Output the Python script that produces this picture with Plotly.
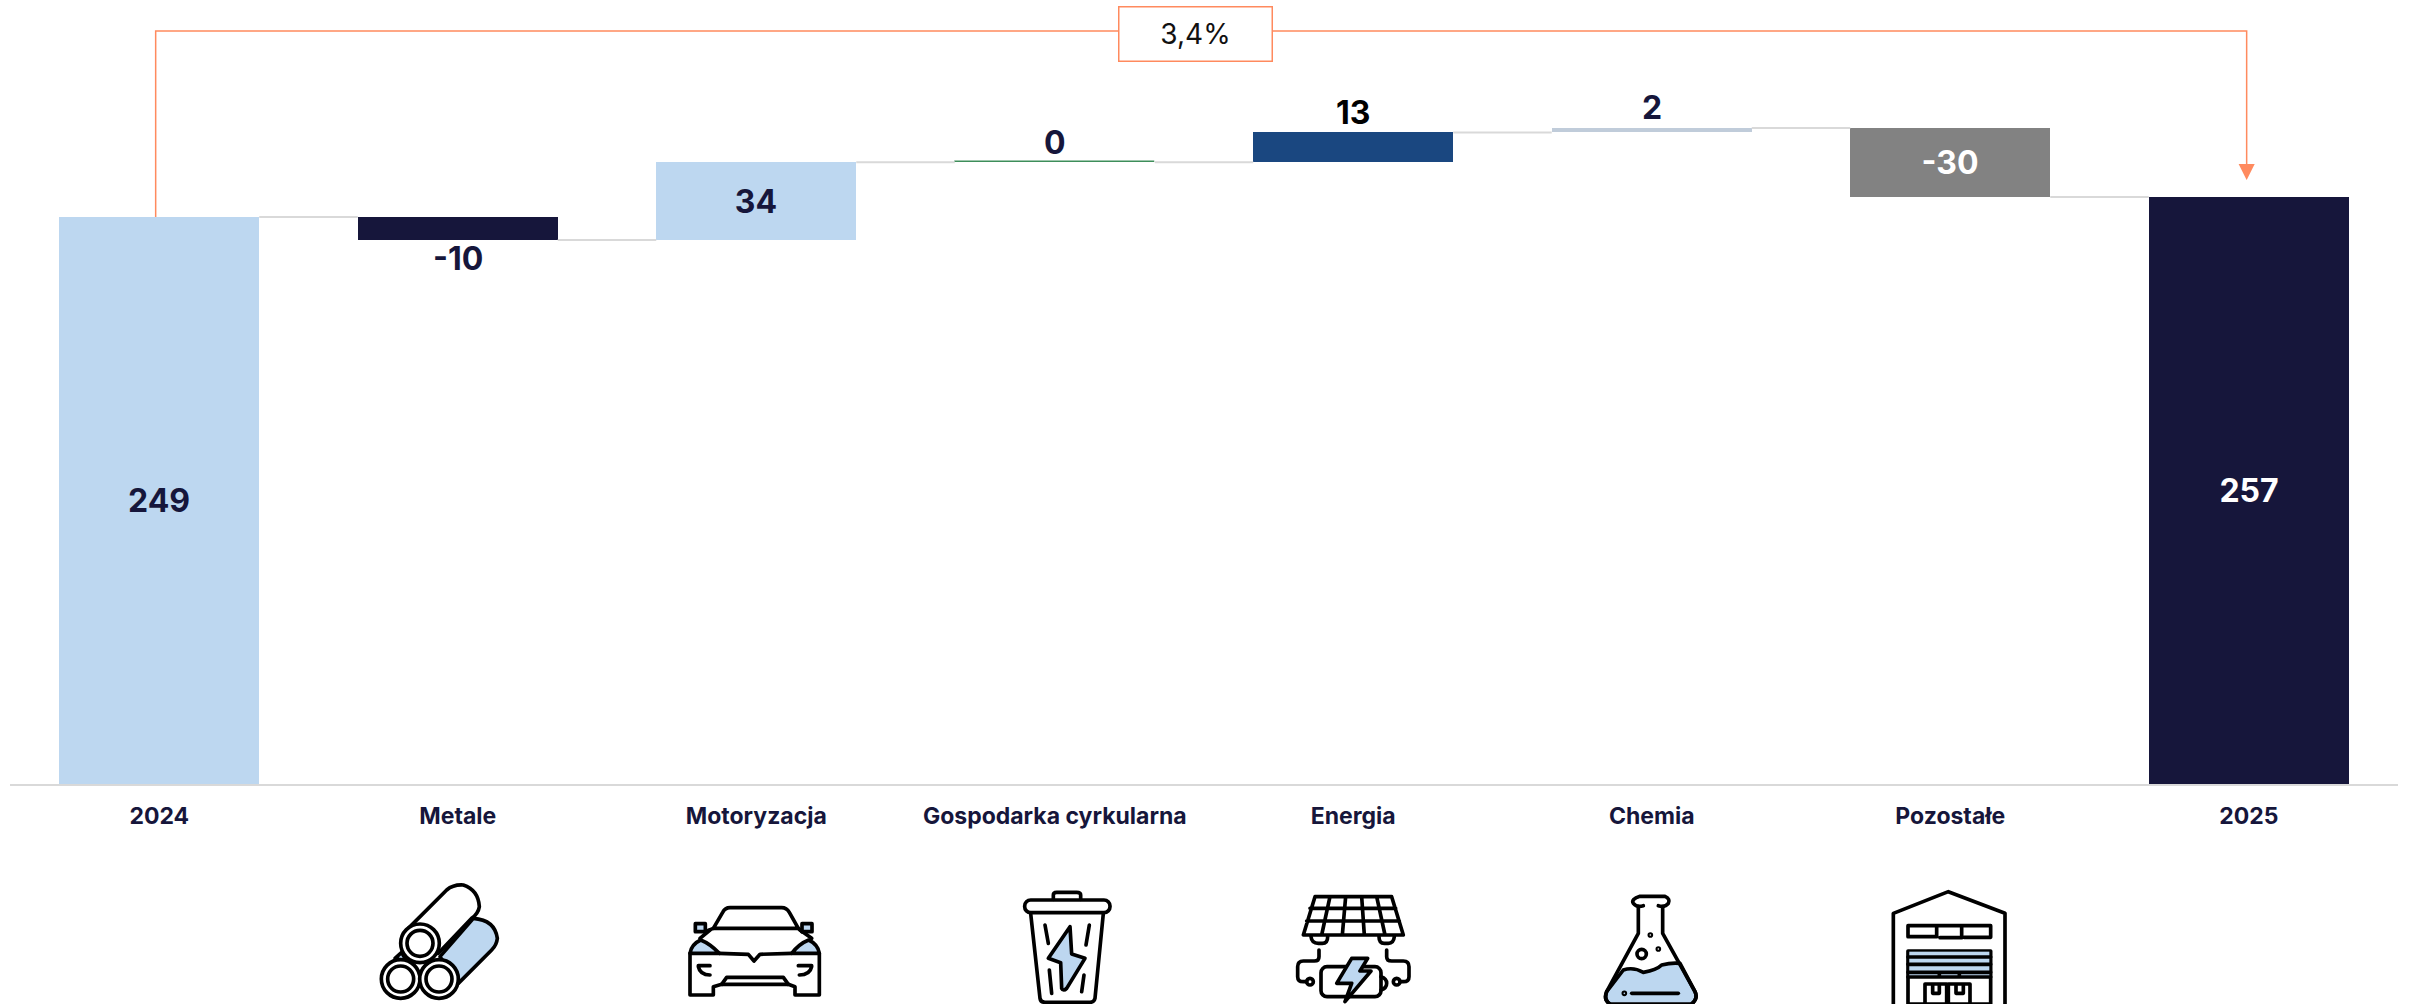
import base64
import plotly.graph_objects as go

categories = ["2024", "Metale", "Motoryzacja", "Gospodarka cyrkularna", "Energia", "Chemia", "Pozostałe", "2025"]
values = [248.3, -10.1, 34.1, 0, 13.0, 2.0, -30.3, 257]
labels = ["249", "-10", "34", "0", "13", "2", "-30", "257"]
is_total = [True, False, False, False, False, False, False, True]
colors = ["#BDD7F0", "#16163B", "#BDD7F0", "#3E8E5A", "#1A4780", "#C0CCDA", "#828282", "#16163B"]
label_colors = ["#16163B", "#16163B", "#16163B", "#16163B", "#000000", "#16163B", "#FFFFFF", "#FFFFFF"]
label_inside = [True, False, True, False, False, False, True, True]
growth_label = "3,4%"

FONT = "Inter"
NAVY = "#16163B"
ORANGE = "#FF8A5E"
GREY = "#D9D9D9"
BLUE = "#BDD7F0"
BAR_WIDTH = 0.67

# running levels
bases, tops = [], []
level = 0
for v, total in zip(values, is_total):
    if total:
        bases.append(0)
        level = v
    else:
        bases.append(level)
        level += v
    tops.append(level)

conn_x, conn_y = [], []
for i in range(len(categories) - 1):
    conn_x += [i + BAR_WIDTH / 2, i + 1 - BAR_WIDTH / 2, None]
    conn_y += [tops[i], tops[i], None]


def svg(w, h, body):
    s = (f'<svg xmlns="http://www.w3.org/2000/svg" width="{w}" height="{h}" viewBox="0 0 {w} {h}">'
         f'<g fill="none" stroke="#000" stroke-width="11" stroke-linecap="round" stroke-linejoin="round">{body}</g></svg>')
    return "data:image/svg+xml;base64," + base64.b64encode(s.encode()).decode()


B = f'fill="{BLUE}"'
icon_metal = svg(420, 387, f'''
<path d="M115 160 L230 45 Q250 28 280 30 Q325 45 328 95 Q325 115 305 130 L205 235" fill="#fff"/>
<path d="M210 245 L310 130 Q375 135 382 190 Q380 210 365 225 L265 325 Z" {B}/>
<path d="M75 250 L95 232 L110 260 Z" {B}/>
<circle cx="150" cy="205" r="58" fill="#fff"/><circle cx="150" cy="205" r="39" fill="#fff"/>
<circle cx="92" cy="312" r="58" fill="#fff"/><circle cx="92" cy="312" r="39" fill="#fff"/>
<circle cx="207" cy="312" r="58" fill="#fff"/><circle cx="207" cy="312" r="39" fill="#fff"/>''')
icon_car = svg(450, 327, f'''
<path d="M100 100 L128 52 Q135 38 150 38 L305 38 Q320 38 328 52 L355 100 Z"/>
<rect x="46" y="86" width="30" height="24" {B}/><rect x="366" y="86" width="30" height="24" {B}/>
<path d="M75 110 L100 100 M366 110 L355 100"/>
<path d="M60 130 L90 105 M395 130 L360 105"/>
<path d="M30 175 Q34 148 62 135 Q90 146 118 175 Z" {B}/>
<path d="M418 175 Q414 148 386 135 Q358 146 335 175 Z" {B}/>
<path d="M30 175 L30 300 L100 300 L100 275 L125 268 L325 268 L345 275 L345 300 L418 300 L418 175"/>
<path d="M118 175 L205 178 L222 198 L240 178 L335 175"/>
<path d="M125 268 L140 247 L310 247 L325 268"/>
<path d="M55 212 L90 212 M55 215 Q60 240 90 240 M395 212 L355 212 M395 215 Q390 240 358 240"/>''')
icon_trash = svg(360, 372, f'''
<path d="M130 58 L130 45 Q130 37 140 37 L200 37 Q212 37 212 45 L212 58"/>
<rect x="44" y="60" width="256" height="38" rx="18"/>
<path d="M62 100 L90 355 Q92 367 105 367 L240 367 Q252 367 255 355 L280 100"/>
<path d="M180 140 L115 235 L152 248 L155 325 Q160 335 170 325 L225 235 L185 222 Z" {B}/>
<path d="M105 135 L115 190 M238 135 L228 195 M118 270 L125 340 M222 285 L215 335"/>''')
icon_energy = svg(405, 357, f'''
<path d="M90 35 L320 35 L355 150 L55 150 Z M75 70 L332 70 M65 108 L343 108 M135 35 L110 150 M182 35 L172 150 M230 35 L238 150 M275 35 L300 150"/>
<path d="M78 155 Q80 175 100 175 L112 175 Q128 175 128 155 M282 155 Q282 175 298 175 L310 175 Q326 175 328 155"/>
<path d="M102 195 L102 215 Q102 228 88 228 L55 228 Q38 228 38 245 L38 275 Q38 290 55 290 L65 290"/><circle cx="75" cy="290" r="10"/>
<path d="M305 195 L305 215 Q305 228 320 228 L355 228 Q372 228 372 245 L372 275 Q372 290 355 290 L345 290"/><circle cx="335" cy="290" r="10"/>
<rect x="108" y="245" width="180" height="90" rx="18"/>
<path d="M288 275 Q305 280 305 295 Q305 310 288 315"/>
<path d="M200 220 L248 220 L225 258 L258 258 L180 350 L200 295 L155 295 Z" {B}/>''')
icon_flask = svg(360, 357, f'''
<path d="M100 255 Q130 245 160 262 Q200 255 215 240 Q245 232 270 235 L315 320 Q325 340 305 357 L60 357 Q40 345 50 320 Z" {B}/>
<path d="M145 65 L145 145 L50 320 Q40 345 60 357 M218 65 L218 145 L315 320 Q325 340 305 357"/>
<path d="M150 34 L225 34 Q242 42 235 55 Q225 68 205 62 M150 34 Q122 42 130 55 Q140 68 160 62"/>
<path d="M125 325 L265 325" stroke-width="11"/><circle cx="103" cy="325" r="3"/>
<circle cx="155" cy="207" r="14"/><circle cx="181" cy="150" r="3"/><circle cx="205" cy="192" r="3"/>''')
icon_warehouse = svg(405, 357, f'''
<path d="M40 357 L40 85 L205 20 L375 85 L375 357"/>
<path d="M180 158 L245 158 L245 122 L332 122 L332 157 L252 157 M170 122 L170 155 L84 155 L84 122 L245 122"/>
<rect x="84" y="198" width="248" height="159" fill="#fff"/>
<rect x="88" y="200" width="240" height="75" {B} stroke="none"/>
<path d="M84 216 L332 216 M84 238 L332 238 M84 262 L332 262 M84 276 L332 276 M178 262 L178 276 M238 262 L238 276"/>
<path d="M135 357 L135 297 L200 297 L200 357 M205 357 L205 297 L270 297 L270 357 M158 297 L158 325 L178 325 L178 297 M228 297 L228 325 L250 325 L250 297"/>''')

# icon, crop left, crop top, crop width, crop height (page pixels)
icons = [
    (icon_metal, 370, 875, 140, 129),
    (icon_car, 680, 895, 150, 109),
    (icon_trash, 1010, 880, 120, 124),
    (icon_energy, 1285, 885, 135, 119),
    (icon_flask, 1590, 885, 120, 119),
    (icon_warehouse, 1880, 885, 135, 119),
]

W, H = 2412, 1004
L, R, T, Bm = 10, 14, 0, 220
PW, PH = W - L - R, H - T - Bm

images = [dict(source=s, xref="paper", yref="paper",
               x=(x - L) / PW, y=1 - (y - T) / PH, sizex=w / PW, sizey=h / PH,
               xanchor="left", yanchor="top", sizing="stretch", layer="above")
          for s, x, y, w, h in icons]

ARROW_X_START, ARROW_X_END, ARROW_TOP = -0.012, 6.993, 329.7
HEAD_TOP, HEAD_TIP = 271.5, 264.5

annotations = [dict(x=3.47, y=328.2, xref="x", yref="y", text=growth_label, showarrow=False,
                    width=150, height=51, bgcolor="white", bordercolor=ORANGE, borderwidth=1.5,
                    font=dict(family=FONT, size=28, color="#111111"), align="center", valign="middle")]
for i, (lab, col, inside) in enumerate(zip(labels, label_colors, label_inside)):
    if inside:
        continue
    negative = values[i] < 0
    annotations.append(dict(
        x=i, y=bases[i] + min(values[i], 0) if negative else bases[i] + values[i],
        xref="x", yref="y", text=lab, showarrow=False, yanchor="middle",
        yshift=-18 if negative else 20,
        font=dict(family=FONT, size=32, weight=700, color=col)))

fig = go.Figure()
fig.add_trace(go.Scatter(x=conn_x, y=conn_y, mode="lines", line=dict(color=GREY, width=2),
                         hoverinfo="skip", showlegend=False))
fig.add_trace(go.Bar(
    x=list(range(len(categories))), y=values, base=bases, width=BAR_WIDTH,
    marker=dict(color=colors,
                line=dict(color=colors, width=[1.5 if v == 0 else 0 for v in values])),
    text=[lab if inside else "" for lab, inside in zip(labels, label_inside)],
    textposition="inside", textangle=0,
    insidetextanchor="middle", constraintext="none", cliponaxis=False,
    textfont=dict(family=FONT, size=32, weight=700, color=label_colors),
    showlegend=False,
))

fig.update_layout(
    width=W, height=H, autosize=False,
    margin=dict(l=L, r=R, t=T, b=Bm, pad=0),
    paper_bgcolor="white", plot_bgcolor="white",
    font=dict(family=FONT, color=NAVY),
    images=images,
    xaxis=dict(range=[-0.5, 7.5], tickmode="array", tickvals=list(range(len(categories))),
               ticktext=categories, showgrid=False, zeroline=False,
               showline=True, linecolor=GREY, linewidth=2,
               ticks="outside", ticklen=10, tickcolor="rgba(0,0,0,0)",
               tickfont=dict(family=FONT, size=23, weight=700, color=NAVY)),
    yaxis=dict(range=[0, 343.3], visible=False, showgrid=False, zeroline=False),
    shapes=[
        dict(type="path", xref="x", yref="y", layer="above",
             path=f"M {ARROW_X_START},{tops[0]} L {ARROW_X_START},{ARROW_TOP} L {ARROW_X_END},{ARROW_TOP} L {ARROW_X_END},{HEAD_TOP}",
             line=dict(color=ORANGE, width=1.5)),
        dict(type="path", xref="x", yref="y", layer="above",
             path=f"M {ARROW_X_END-0.027},{HEAD_TOP} L {ARROW_X_END+0.027},{HEAD_TOP} L {ARROW_X_END},{HEAD_TIP} Z",
             fillcolor=ORANGE, line=dict(color=ORANGE, width=0)),
    ],
    annotations=annotations,
    bargap=0,
)
fig.write_html("out.html", config={"displayModeBar": False},
               post_script="document.body.style.margin='0';document.documentElement.style.overflow='hidden';")
